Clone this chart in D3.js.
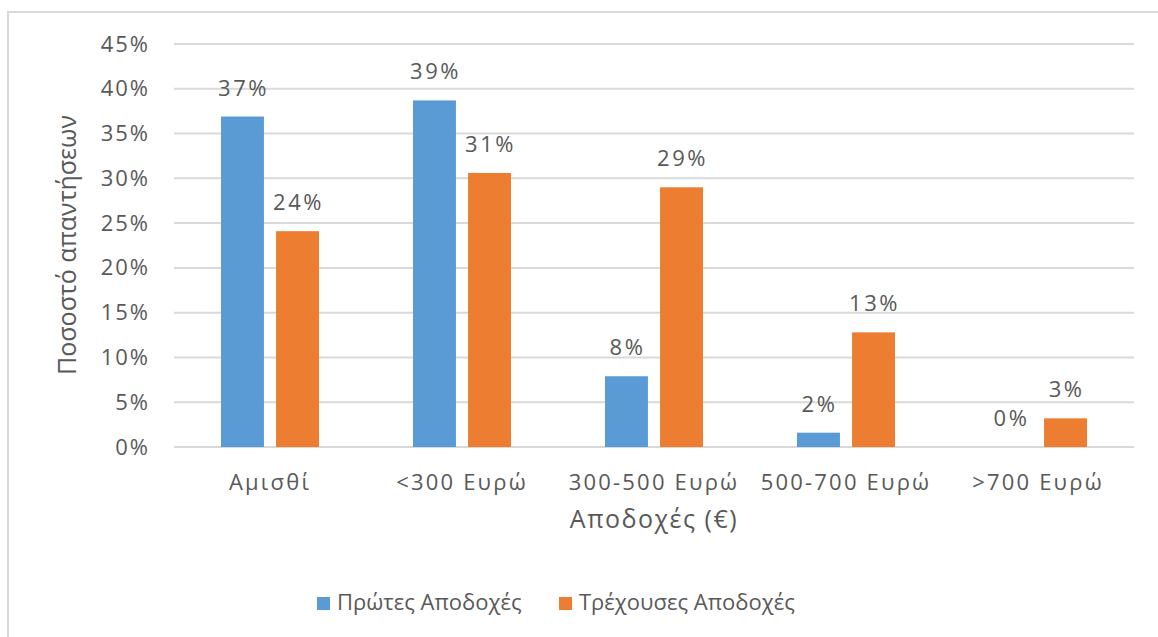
<!DOCTYPE html>
<html>
<head>
<meta charset="utf-8">
<script src="https://cdn.jsdelivr.net/npm/d3@7"></script>
<style>
  body { margin: 0; background: #fff; }
  text { font-family: "Open Sans", "DejaVu Sans", sans-serif; fill: #595959; }
</style>
</head>
<body>
<div id="chart"></div>
<script>
(function(){

    // data
    var categories = ["Αμισθί", "<300 Ευρώ", "300-500 Ευρώ", "500-700 Ευρώ", ">700 Ευρώ"];
    var seriesNames = ["Πρώτες Αποδοχές", "Τρέχουσες Αποδοχές"];
    var firstPay = [0.369, 0.387, 0.079, 0.016, 0.0];
    var currentPay = [0.241, 0.306, 0.290, 0.128, 0.032];
    var yTicks = [0, 0.05, 0.10, 0.15, 0.20, 0.25, 0.30, 0.35, 0.40, 0.45];
    var colors = ["#5B9BD5", "#ED7D31"];

    var width = 1158;
    var height = 637;
    var margin = {top: 44, left: 174, right: 24, bottom: 190};

    var svg = d3.select("#chart").append("svg")
        .attr("width", width)
        .attr("height", height);

    // chart frame
    svg.append("rect")
        .attr("x", 8).attr("y", 12)
        .attr("width", width + 10).attr("height", height + 10)
        .attr("fill", "#fff")
        .attr("stroke", "#d9d9d9")
        .attr("stroke-width", 2);

    var x0 = d3.scaleBand()
        .domain(categories)
        .range([margin.left, width - margin.right]);

    var x1 = d3.scaleBand()
        .domain(seriesNames)
        .range([0, 98])
        .paddingInner(0.22);

    var y = d3.scaleLinear()
        .domain([0, 0.45])
        .range([447, margin.top]);

    // gridlines
    svg.append("g")
        .selectAll("line")
        .data(yTicks).enter().append("line")
        .attr("x1", margin.left)
        .attr("x2", width - margin.right)
        .attr("y1", function(d){ return y(d); })
        .attr("y2", function(d){ return y(d); })
        .style("stroke", "#d9d9d9")
        .style("stroke-width", 2);

    // y axis labels
    var yAxis = d3.axisLeft(y).tickValues(yTicks).tickFormat(d3.format(".0%")).tickSize(0).tickPadding(24);
    var ga = svg.append("g").attr("transform", "translate(" + margin.left + ",0)").call(yAxis);
    ga.select(".domain").remove();
    ga.selectAll("text")
        .attr("font-size", "22px")
        .attr("letter-spacing", "2px")
        .attr("font-family", null)
        .attr("fill", null);

    // x axis labels
    var xAxis = d3.axisBottom(x0).tickSize(0).tickPadding(27);
    var gx = svg.append("g").attr("transform", "translate(0," + y(0) + ")").call(xAxis);
    gx.select(".domain").remove();
    gx.selectAll("text")
        .attr("font-size", "22px")
        .attr("letter-spacing", "2.2px")
        .attr("font-family", null)
        .attr("fill", null);

    // bars
    var rows = categories.map(function(c, i){
        return [
            {cat: c, s: seriesNames[0], v: firstPay[i], color: colors[0]},
            {cat: c, s: seriesNames[1], v: currentPay[i], color: colors[1]}
        ];
    });

    var groups = svg.append("g")
        .selectAll("g")
        .data(rows).enter().append("g")
        .attr("transform", function(d){
            return "translate(" + (x0(d[0].cat) + x0.bandwidth() / 2 - 49) + ",0)";
        });

    groups.selectAll("rect")
        .data(function(d){ return d; }).enter().append("rect")
        .attr("x", function(d){ return x1(d.s); })
        .attr("width", x1.bandwidth())
        .attr("y", function(d){ return y(d.v); })
        .attr("height", function(d){ return y(0) - y(d.v); })
        .attr("fill", function(d){ return d.color; });

    groups.selectAll("text")
        .data(function(d){ return d; }).enter().append("text")
        .attr("x", function(d){ return x1(d.s) + x1.bandwidth() / 2 + 1; })
        .attr("y", function(d){ return y(d.v) - 21; })
        .attr("text-anchor", "middle")
        .attr("font-size", "22px")
        .attr("letter-spacing", "2.5px")
        .text(function(d){ return d3.format(".0%")(d.v); });

    // axis titles
    svg.append("text")
        .attr("transform", "translate(76,245) rotate(-90)")
        .attr("text-anchor", "middle")
        .attr("font-size", "25px")
        .text("Ποσοστό απαντήσεων");

    svg.append("text")
        .attr("x", 654)
        .attr("y", 528)
        .attr("text-anchor", "middle")
        .attr("font-size", "25px")
        .attr("letter-spacing", "1.5px")
        .text("Αποδοχές (€)");

    // legend
    var legendX = [317, 559];
    var legend = svg.append("g")
        .selectAll("g")
        .data(seriesNames).enter().append("g")
        .attr("transform", function(d, i){ return "translate(" + legendX[i] + ",597)"; });

    legend.append("rect")
        .attr("width", 13).attr("height", 13)
        .attr("fill", function(d, i){ return colors[i]; });

    legend.append("text")
        .attr("x", 20)
        .attr("y", 13)
        .attr("font-size", "22px")
        .text(function(d){ return d; });

})();
</script>
</body>
</html>
